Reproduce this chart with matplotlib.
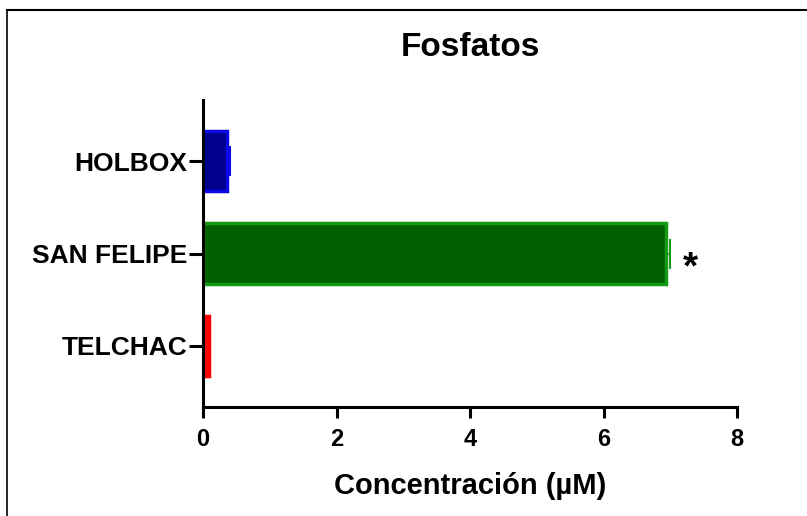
import matplotlib
matplotlib.use("Agg")
import matplotlib.pyplot as plt
from matplotlib.lines import Line2D

categories = ["TELCHAC", "SAN FELIPE", "HOLBOX"]
values = [0.09, 6.94, 0.36]
errors = [0.0, 0.06, 0.05]
fill_colors = ["#ff0000", "#006000", "#00008c"]
edge_colors = ["#ff0000", "#159a15", "#0a0ae6"]
xticks = [0, 2, 4, 6, 8]

plt.rcParams['font.family'] = ['Liberation Sans', 'DejaVu Sans']
plt.rcParams['font.weight'] = 'bold'

fig = plt.figure(figsize=(8.07, 5.16), dpi=100)
ax = fig.add_axes([203/807, 109/516, 534/807, 307/516])

ypos = list(range(len(categories)))
for i, (v, e, fc, ec) in enumerate(zip(values, errors, fill_colors, edge_colors)):
    ax.barh(ypos[i], v, height=0.65, color=fc, edgecolor=ec, linewidth=2.5, zorder=2)
    if e > 0:
        ax.errorbar(v, ypos[i], xerr=[[0], [e]], fmt='none', ecolor=ec,
                    elinewidth=1.2, capsize=11, capthick=1.5, zorder=3)

ax.text(values[1] + 0.36, ypos[1] - 0.16, "*", fontsize=28, fontweight='bold',
        ha='center', va='center')

ax.set_xlim(0, 8)
ax.set_ylim(-0.66, 2.66)
ax.set_xticks(xticks)
ax.set_xticklabels([str(t) for t in xticks], fontsize=17, fontweight='bold')
ax.set_yticks(ypos)
ax.set_yticklabels(categories, fontsize=19, fontweight='bold')
ax.set_xlabel("Concentración (µM)", fontsize=21, fontweight='bold', labelpad=15)
ax.set_title("Fosfatos", fontsize=24, fontweight='bold', pad=32)

for s in ['top', 'right']:
    ax.spines[s].set_visible(False)
for s in ['left', 'bottom']:
    ax.spines[s].set_linewidth(2.2)
ax.tick_params(axis='both', width=2.2, direction='out')
ax.tick_params(axis='x', length=8, pad=7)
ax.tick_params(axis='y', length=10, pad=1)

fig.add_artist(Line2D([7/807, 7/807], [0, 1 - 10/516], transform=fig.transFigure, color='black', lw=1.2))
fig.add_artist(Line2D([7/807, 1], [1 - 10/516, 1 - 10/516], transform=fig.transFigure, color='black', lw=1.5))

fig.savefig("out.png", dpi=100)
